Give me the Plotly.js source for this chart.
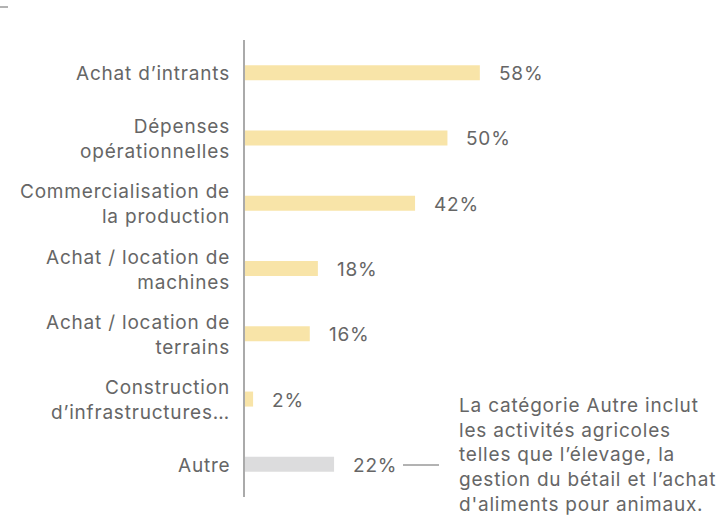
<!DOCTYPE html>
<html>
<head>
<meta charset="utf-8">
<script src="https://cdn.plot.ly/plotly-3.0.1.min.js"></script>
<style>
html,body{margin:0;padding:0;background:#fff;}
#chart{width:724px;height:528px;}
svg text{letter-spacing:0.8px;}
</style>
</head>
<body>
<div id="chart"></div>
<script>
var categories = [
  "Achat d\u2019intrants",
  "D\u00e9penses<br>op\u00e9rationnelles",
  "Commercialisation de<br>la production",
  "Achat / location de<br>machines",
  "Achat / location de<br>terrains",
  "Construction<br>d\u2019infrastructures\u2026",
  "Autre"
];
var values = [58, 50, 42, 18, 16, 2, 22];
var valueLabels = ["58%", "50%", "42%", "18%", "16%", "2%", "22%"];
var barColors = ["#f8e4a8", "#f8e4a8", "#f8e4a8", "#f8e4a8", "#f8e4a8", "#f8e4a8", "#dcdcdd"];
var noteText = "La cat\u00e9gorie Autre inclut<br>les activit\u00e9s agricoles<br>telles que l\u2019\u00e9levage, la<br>gestion du b\u00e9tail et l\u2019achat<br>d'aliments pour animaux.";

var FONT = "Inter, 'Open Sans', Roboto, Arial, sans-serif";
var TXT = "#666666";
var FS = 19;
var W = 724, H = 528, ML = 245, MR = 0, MT = 40, MB = 31;
function px2x(p) { return (p - ML) / (W - ML - MR); }
function px2y(p) { return 1 - (p - MT) / (H - MT - MB); }

var ann = [];
values.forEach(function (v, i) {
  ann.push({
    x: v, y: i, xref: "x", yref: "y",
    text: valueLabels[i], showarrow: false,
    xanchor: "left", yanchor: "middle", xshift: 17, yshift: -1,
    font: {family: FONT, size: FS, color: TXT}
  });
  ann.push({
    x: 0, y: i, xref: "paper", yref: "y",
    text: categories[i], showarrow: false, align: "right",
    xanchor: "right", yanchor: "middle", xshift: -13, yshift: -1,
    font: {family: FONT, size: FS, color: TXT}
  });
});
ann.push({
  x: px2x(457), y: px2y(455), xref: "paper", yref: "paper",
  text: noteText, showarrow: false, align: "left",
  xanchor: "left", yanchor: "middle",
  font: {family: FONT, size: FS, color: TXT}
});

var layout = {
  width: W, height: H,
  margin: {l: ML, r: MR, t: MT, b: MB, pad: 0},
  paper_bgcolor: "#ffffff", plot_bgcolor: "#ffffff",
  showlegend: false,
  font: {family: FONT, size: FS, color: TXT},
  bargap: 0.77,
  xaxis: {range: [0, 118.3], visible: false, fixedrange: true},
  yaxis: {
    range: [6.5, -0.5],
    showline: true, linecolor: "#aaaaaa", linewidth: 2,
    ticks: "", showgrid: false, zeroline: false, showticklabels: false
  },
  annotations: ann,
  shapes: [
    {type: "line", xref: "paper", yref: "paper",
     x0: px2x(403), x1: px2x(439), y0: px2y(465), y1: px2y(465),
     line: {color: "#666666", width: 1}},
    {type: "line", xref: "paper", yref: "paper",
     x0: px2x(0), x1: px2x(8), y0: px2y(7), y1: px2y(7),
     line: {color: "#666666", width: 1}}
  ]
};

Plotly.newPlot("chart", [{
  type: "bar", orientation: "h",
  x: values, y: categories.map(function (c, i) { return i; }),
  marker: {color: barColors},
  hoverinfo: "none"
}], layout, {displayModeBar: false, staticPlot: true});
</script>
</body>
</html>
